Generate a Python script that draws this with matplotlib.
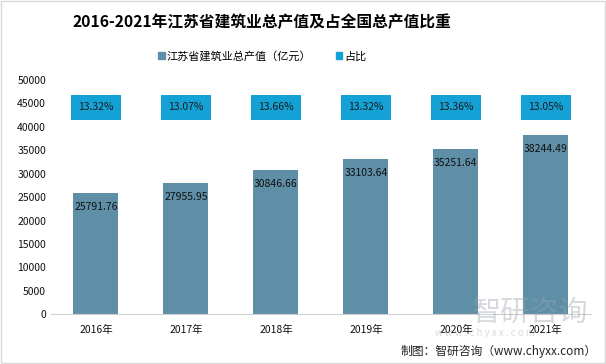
import matplotlib.pyplot as plt
import numpy as np
from matplotlib.patches import Patch

plt.rcParams['font.family'] = ['Noto Sans CJK SC', 'DejaVu Sans']

years = ['2016年', '2017年', '2018年', '2019年', '2020年', '2021年']
output = [25791.76, 27955.95, 30846.66, 33103.64, 35251.64, 38244.49]
share = [13.32, 13.07, 13.66, 13.32, 13.36, 13.05]

bar_color = '#5f8fa7'
box_color = '#14a2d6'

fig = plt.figure(figsize=(6.06, 3.64), dpi=100)
ax = fig.add_axes([0.084, 0.137, 0.891, 0.643])

x = np.arange(len(years))
ax.bar(x, output, width=0.5, color=bar_color)
for xi, v in zip(x, output):
    ax.annotate('%.2f' % v, (xi, v), xytext=(0, -14), textcoords='offset pixels',
                ha='center', va='center', fontsize=7.5, color='#111111')
# share labels drawn as boxed data labels near the top
for xi, s in zip(x, share):
    ax.text(xi, 44200, '%.2f%%' % s, ha='center', va='center', fontsize=7.5,
            color='#1a1a1a',
            bbox=dict(boxstyle='square,pad=0.72', fc=box_color, ec='none'))

ax.set_xlim(-0.5, len(years) - 0.5)
ax.set_ylim(0, 50000)
ax.set_yticks(np.arange(0, 50001, 5000))
ax.set_xticks(x)
ax.set_xticklabels(years)
ax.tick_params(axis='both', length=0, labelsize=7.5, colors='#111111')
ax.tick_params(axis='x', pad=8)
for sp in ['top', 'right', 'left']:
    ax.spines[sp].set_visible(False)
ax.spines['bottom'].set_color('#d0d0d0')

fig.text(0.432, 0.94, '2016-2021年江苏省建筑业总产值及占全国总产值比重',
         ha='center', va='center', fontsize=11.3, fontweight='bold')
handles = [Patch(color=bar_color), Patch(color=box_color)]
labels = ['江苏省建筑业总产值（亿元）', '占比']
fig.legend(handles, labels, loc='center', bbox_to_anchor=(0.433, 0.845), ncol=2,
           frameon=False, fontsize=8, handlelength=0.6, handleheight=0.6,
           handletextpad=0.2, columnspacing=2.2)

# watermark
fig.text(0.875, 0.14, '智研咨询', ha='center', va='center', fontsize=21,
         color='#9aa3ad', alpha=0.4)
fig.text(0.80, 0.085, 'w w w . c h y x x . c o m', ha='center', va='center',
         fontsize=7, color='#9aa3ad', alpha=0.4)
fig.text(0.985, 0.035, '制图：智研咨询（www.chyxx.com）', ha='right', va='center',
         fontsize=8.5, color='#222222')

fig.patches.append(plt.Rectangle((0.002, 0.003), 0.996, 0.994, transform=fig.transFigure,
                                 fill=False, ec='#d9d9d9', lw=1))
fig.savefig('out.png', dpi=100)
